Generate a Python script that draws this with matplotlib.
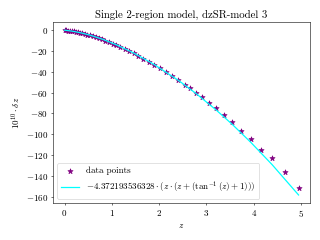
import matplotlib
matplotlib.use("Agg")
import matplotlib.pyplot as plt

plt.rcParams['font.family'] = 'serif'
plt.rcParams['font.serif'] = ['cmr10']
plt.rcParams['mathtext.fontset'] = 'cm'
plt.rcParams['axes.formatter.use_mathtext'] = True
plt.rcParams['font.size'] = 13

# data points (z, 10^10 * delta z)
z_data = [0, 0.035, 0.072, 0.110, 0.150, 0.191, 0.235, 0.281, 0.328, 0.378,
          0.430, 0.484, 0.541, 0.601, 0.663, 0.727, 0.795, 0.866, 0.940, 1.017,
          1.098, 1.183, 1.271, 1.363, 1.460, 1.560, 1.666, 1.776, 1.891, 2.011,
          2.136, 2.267, 2.404, 2.540, 2.660, 2.780, 2.910, 3.060, 3.210, 3.370,
          3.550, 3.740, 3.940, 4.160, 4.390, 4.660, 4.950]
dz_data = [0, -0.16, -0.36, -0.59, -0.86, -1.17, -1.53, -1.95, -2.41, -2.94,
           -3.54, -4.20, -4.95, -5.78, -6.69, -7.69, -8.80, -10.02, -11.36, -12.82,
           -14.42, -16.17, -18.06, -20.10, -22.34, -24.73, -27.36, -30.20, -33.28, -36.60,
           -40.20, -44.10, -48.30, -52.60, -55.6, -60.2, -64.6, -69.9, -75.2, -81.7,
           -88.5, -97.0, -104.5, -114.9, -123.4, -136.2, -151.4]

# fitted curve, sampled
z_fit = [0, 0.150, 0.328, 0.541, 0.795, 1.098, 1.460, 1.891, 2.404, 2.780,
         3.210, 3.550, 3.940, 4.390, 4.950]
dz_fit = [0, -0.852, -2.359, -4.818, -8.573, -14.066, -21.898, -32.868, -48.143, -60.84,
          -76.9, -90.7, -107.9, -129.3, -158.5]

fit_label = r'$-4.372193536328\cdot(z\cdot(z+(\tan^{-1}(z)+1)))$'

fig, ax = plt.subplots(figsize=(6.4, 4.8), dpi=50)
ax.scatter(z_data, dz_data, marker='*', color='purple', s=60, label='data points', zorder=2)
ax.plot(z_fit, dz_fit, color='cyan', linewidth=1.8, label=fit_label, zorder=3)

ax.set_title('Single 2-region model, dzSR-model 3')
ax.set_xlabel(r'$z$')
ax.set_ylabel(r'$10^{10}\cdot\delta z$')
ax.legend(loc='lower left')

fig.tight_layout()
fig.savefig('out.png', dpi=50)
